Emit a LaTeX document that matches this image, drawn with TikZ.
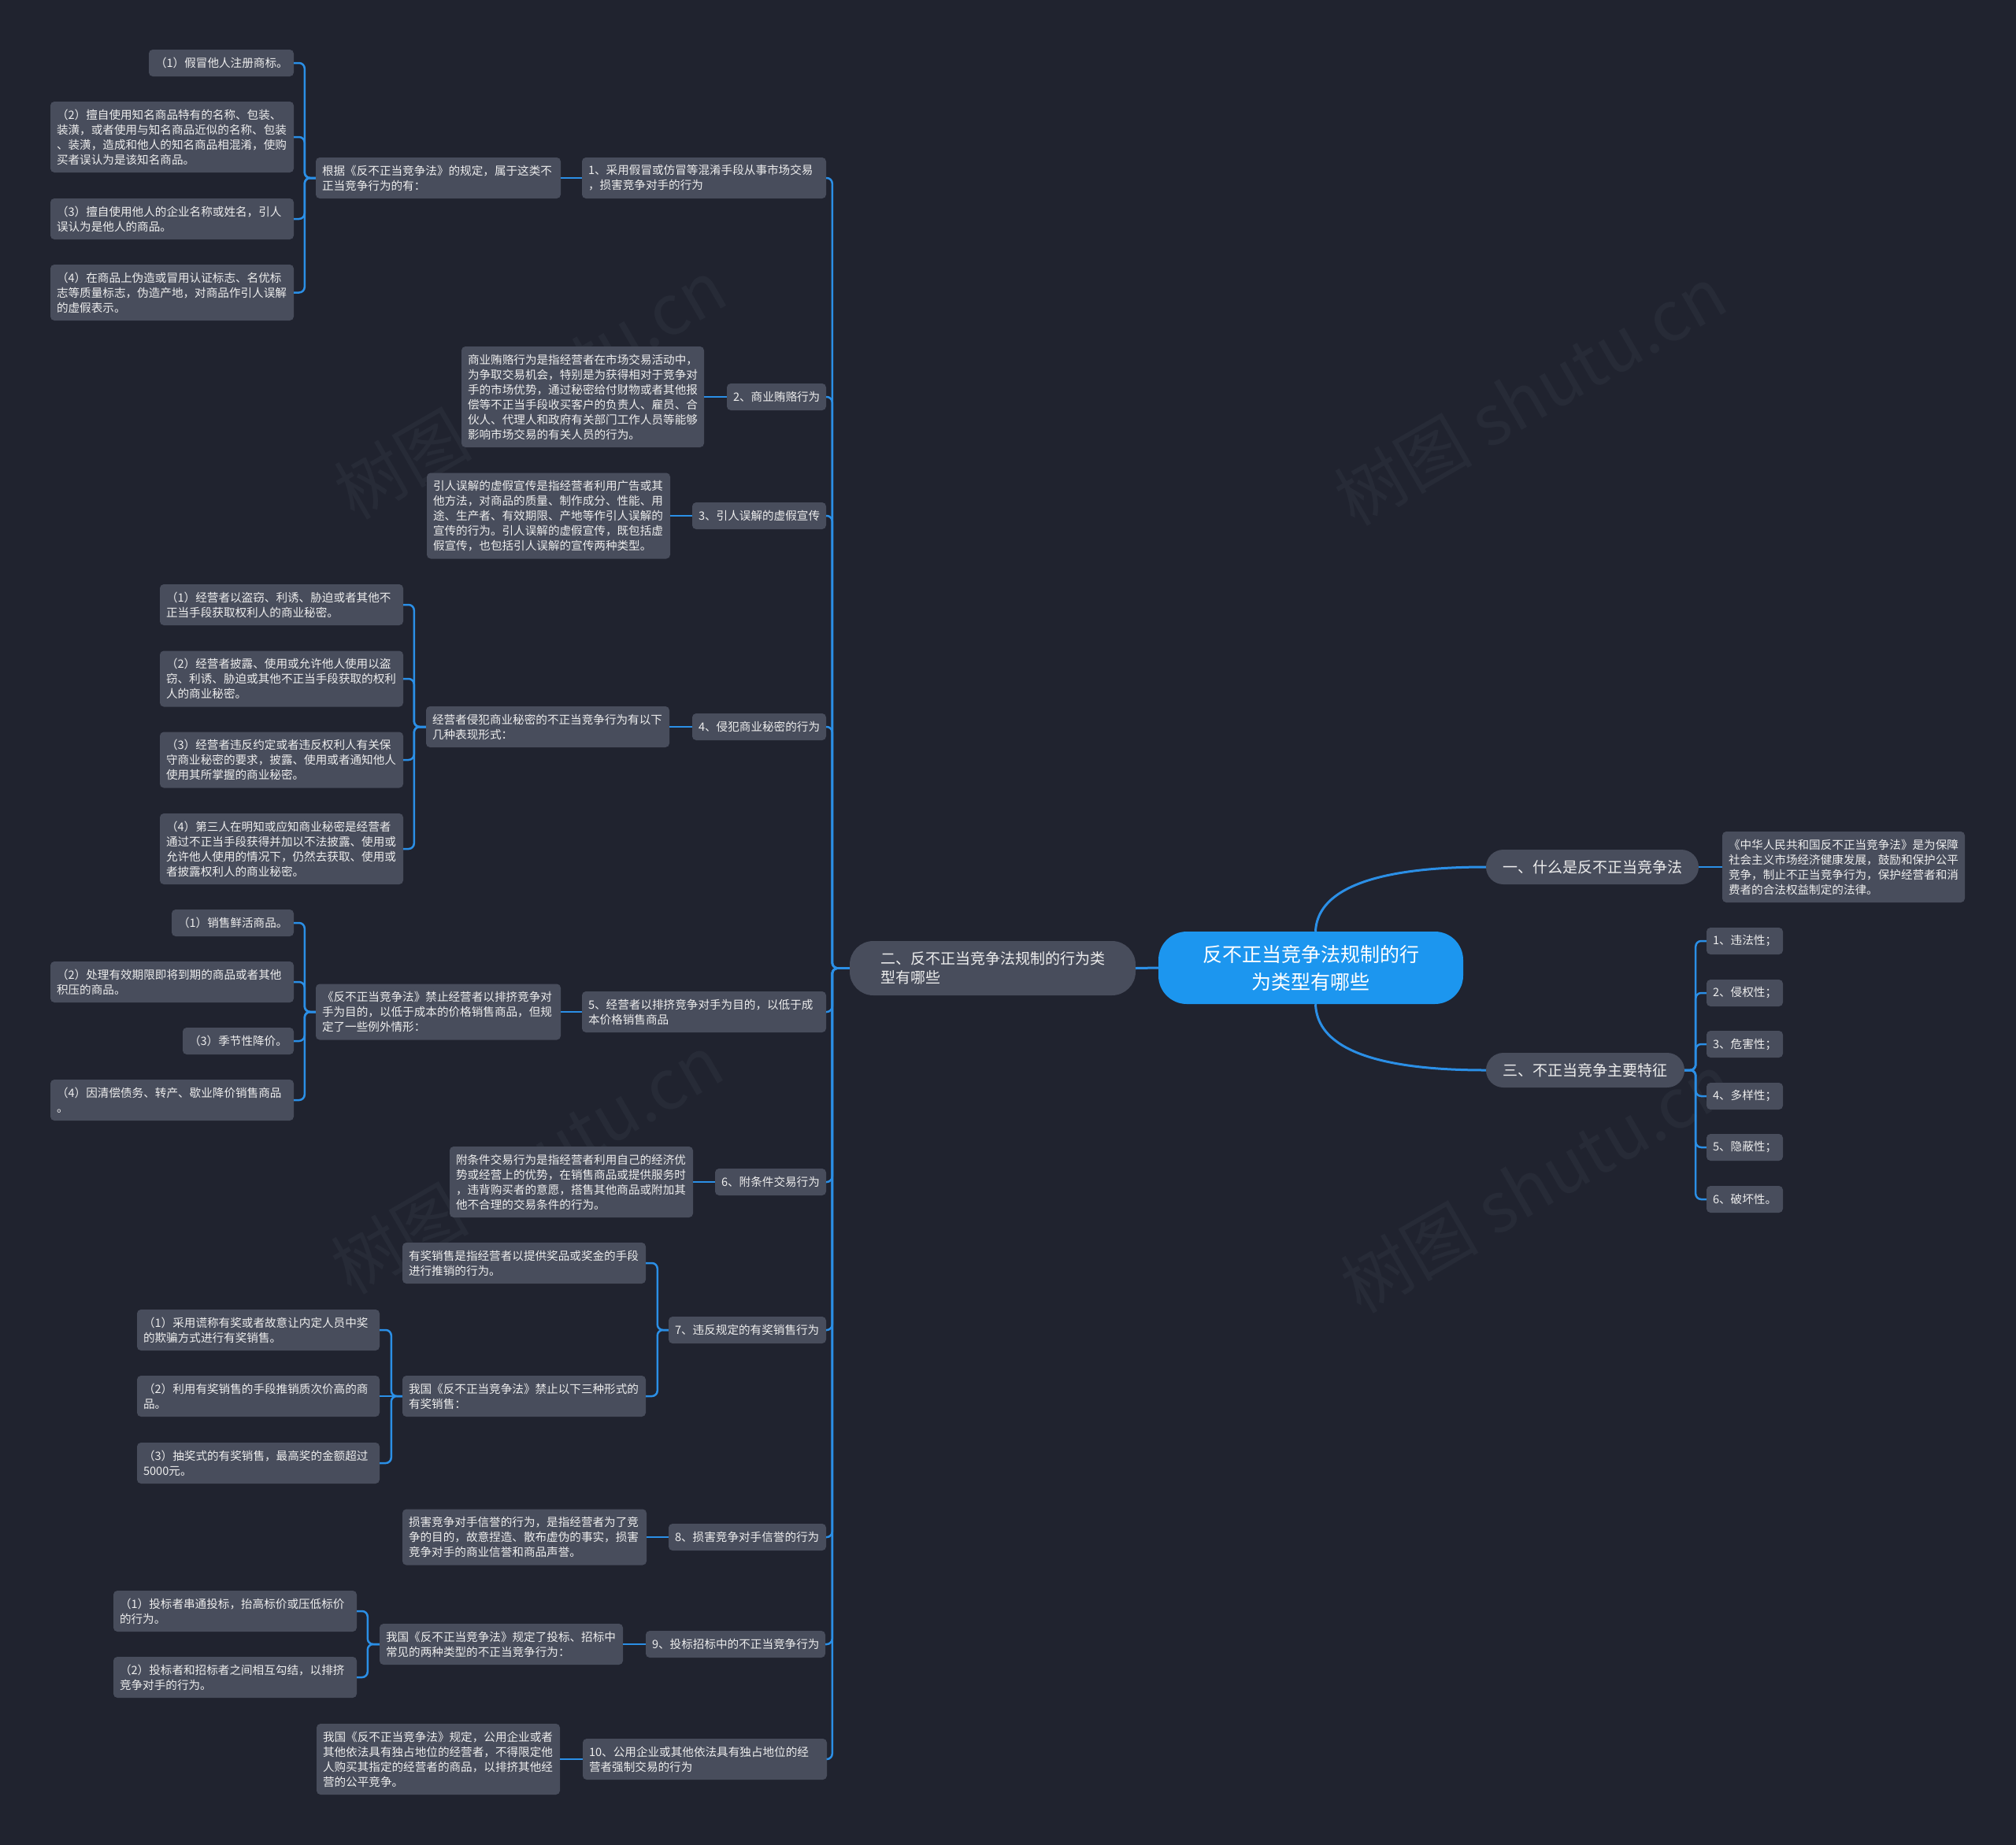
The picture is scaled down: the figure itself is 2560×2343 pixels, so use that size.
\documentclass[tikz,border=0pt]{standalone}
\usepackage{fontspec}
\setmainfont{Noto Sans CJK SC}
\definecolor{bgc}{HTML}{20232F}
\definecolor{nodec}{HTML}{484D5C}
\definecolor{linec}{HTML}{2B8FE6}
\definecolor{mainc}{HTML}{1C96EF}
\definecolor{txtc}{HTML}{EDEDED}
\definecolor{wmc}{HTML}{272B37}
\tikzset{
  box/.style={fill=nodec, rounded corners=5pt, text=txtc, font=\fontsize{14.6}{19}\selectfont, align=left, inner sep=0pt},
  topbox/.style={fill=nodec, text=txtc, font=\fontsize{19}{24}\selectfont, align=left, inner sep=0pt},
  conn/.style={draw=linec, line width=2.5pt, rounded corners=7pt},
  conntop/.style={draw=linec, line width=3pt},
  wm/.style={text=wmc, font=\fontsize{88}{88}\selectfont, rotate=30},
}
\newcommand{\mmbox}[6]{\pgfmathsetmacro{\mmtw}{#4-16}\node[box,minimum width=#4pt,minimum height=#5pt,text width=\mmtw pt] (#1) at (#2,-#3) {#6};}
\begin{document}
\begin{tikzpicture}[x=1pt,y=1pt]
\fill[bgc] (0,0) rectangle (2560,-2343);
\useasboundingbox (0,0) rectangle (2560,-2343);
% watermarks
\node[wm] (w1) at (673,-494) {树图 shutu.cn};
\node[wm] (w2) at (1943,-502) {树图 shutu.cn};
\node[wm] (w3) at (669,-1478) {树图 shutu.cn};
\node[wm] (w4) at (1951,-1502) {树图 shutu.cn};
% center and level 1
\node[fill=mainc, rounded corners=36pt, minimum width=387pt, minimum height=92pt, text=white, font=\fontsize{25}{35}\selectfont, align=center, inner sep=0pt] (C) at (1664.5,-1229) {反不正当竞争法规制的行\\为类型有哪些};
\node[topbox, rounded corners=30pt, minimum width=363pt, minimum height=69pt] (n2) at (1260.5,-1229.5) {二、反不正当竞争法规制的行为类\\型有哪些};
\node[topbox, rounded corners=22pt, minimum width=270pt, minimum height=44pt] (n1) at (2022,-1101) {一、什么是反不正当竞争法};
\node[topbox, rounded corners=22pt, minimum width=252pt, minimum height=44pt] (n3) at (2013,-1359) {三、不正当竞争主要特征};
\mmbox{n1d}{2341}{1101}{308}{90}{《中华人民共和国反不正当竞争法》是为保障\\社会主义市场经济健康发展，鼓励和保护公平\\竞争，制止不正当竞争行为，保护经营者和消\\费者的合法权益制定的法律。}
\mmbox{t1}{2215.5}{1195}{97}{34}{1、违法性；}
\mmbox{t2}{2215.5}{1261}{97}{34}{2、侵权性；}
\mmbox{t3}{2215.5}{1326}{97}{34}{3、危害性；}
\mmbox{t4}{2215.5}{1392}{97}{34}{4、多样性；}
\mmbox{t5}{2215.5}{1457}{97}{34}{5、隐蔽性；}
\mmbox{t6}{2215.5}{1523}{97}{34}{6、破坏性。}
% level 2
\mmbox{k1}{894}{226}{310}{52}{1、采用假冒或仿冒等混淆手段从事市场交易\\，损害竞争对手的行为}
\mmbox{k2}{986}{504}{126}{34}{2、商业贿赂行为}
\mmbox{k3}{964}{655}{170}{34}{3、引人误解的虚假宣传}
\mmbox{k4}{964}{923}{170}{34}{4、侵犯商业秘密的行为}
\mmbox{k5}{894}{1285}{310}{52}{5、经营者以排挤竞争对手为目的，以低于成\\本价格销售商品}
\mmbox{k6}{978.5}{1501}{141}{34}{6、附条件交易行为}
\mmbox{k7}{949}{1689}{200}{34}{7、违反规定的有奖销售行为}
\mmbox{k8}{949}{1952}{200}{34}{8、损害竞争对手信誉的行为}
\mmbox{k9}{934}{2088}{228}{34}{9、投标招标中的不正当竞争行为}
\mmbox{k10}{895}{2234}{310}{52}{10、公用企业或其他依法具有独占地位的经\\营者强制交易的行为}
% level 3
\mmbox{k1a}{556.5}{226}{311}{52}{根据《反不正当竞争法》的规定，属于这类不\\正当竞争行为的有：}
\mmbox{k2d}{740}{504}{308}{128}{商业贿赂行为是指经营者在市场交易活动中，\\为争取交易机会，特别是为获得相对于竞争对\\手的市场优势，通过秘密给付财物或者其他报\\偿等不正当手段收买客户的负责人、雇员、合\\伙人、代理人和政府有关部门工作人员等能够\\影响市场交易的有关人员的行为。}
\mmbox{k3d}{696.5}{655}{309}{109}{引人误解的虚假宣传是指经营者利用广告或其\\他方法，对商品的质量、制作成分、性能、用\\途、生产者、有效期限、产地等作引人误解的\\宣传的行为。引人误解的虚假宣传，既包括虚\\假宣传，也包括引人误解的宣传两种类型。}
\mmbox{k4a}{695.5}{923}{309}{52}{经营者侵犯商业秘密的不正当竞争行为有以下\\几种表现形式：}
\mmbox{k5a}{556.5}{1285}{311}{71}{《反不正当竞争法》禁止经营者以排挤竞争对\\手为目的，以低于成本的价格销售商品，但规\\定了一些例外情形：}
\mmbox{k6d}{725.5}{1501}{309}{90}{附条件交易行为是指经营者利用自己的经济优\\势或经营上的优势，在销售商品或提供服务时\\，违背购买者的意愿，搭售其他商品或附加其\\他不合理的交易条件的行为。}
\mmbox{k7a}{665.5}{1604}{309}{52}{有奖销售是指经营者以提供奖品或奖金的手段\\进行推销的行为。}
\mmbox{k7b}{665.5}{1773}{309}{52}{我国《反不正当竞争法》禁止以下三种形式的\\有奖销售：}
\mmbox{k8d}{666}{1952}{310}{71}{损害竞争对手信誉的行为，是指经营者为了竞\\争的目的，故意捏造、散布虚伪的事实，损害\\竞争对手的商业信誉和商品声誉。}
\mmbox{k9a}{636.5}{2088}{309}{52}{我国《反不正当竞争法》规定了投标、招标中\\常见的两种类型的不正当竞争行为：}
\mmbox{k10d}{556.5}{2234}{309}{90}{我国《反不正当竞争法》规定，公用企业或者\\其他依法具有独占地位的经营者，不得限定他\\人购买其指定的经营者的商品，以排挤其他经\\营的公平竞争。}
% level 4
\mmbox{l11}{281}{80}{184}{34}{（1）假冒他人注册商标。}
\mmbox{l12}{218.5}{174}{309}{90}{（2）擅自使用知名商品特有的名称、包装、\\装潢，或者使用与知名商品近似的名称、包装\\、装潢，造成和他人的知名商品相混淆，使购\\买者误认为是该知名商品。}
\mmbox{l13}{218.5}{278}{309}{52}{（3）擅自使用他人的企业名称或姓名，引人\\误认为是他人的商品。}
\mmbox{l14}{218.5}{371.5}{309}{71}{（4）在商品上伪造或冒用认证标志、名优标\\志等质量标志，伪造产地，对商品作引人误解\\的虚假表示。}
\mmbox{l41}{357.5}{768}{309}{52}{（1）经营者以盗窃、利诱、胁迫或者其他不\\正当手段获取权利人的商业秘密。}
\mmbox{l42}{357.5}{862}{309}{71}{（2）经营者披露、使用或允许他人使用以盗\\窃、利诱、胁迫或其他不正当手段获取的权利\\人的商业秘密。}
\mmbox{l43}{357.5}{965}{309}{71}{（3）经营者违反约定或者违反权利人有关保\\守商业秘密的要求，披露、使用或者通知他人\\使用其所掌握的商业秘密。}
\mmbox{l44}{357.5}{1078}{309}{90}{（4）第三人在明知或应知商业秘密是经营者\\通过不正当手段获得并加以不法披露、使用或\\允许他人使用的情况下，仍然去获取、使用或\\者披露权利人的商业秘密。}
\mmbox{l51}{295.5}{1172}{155}{34}{（1）销售鲜活商品。}
\mmbox{l52}{218.5}{1247}{309}{52}{（2）处理有效期限即将到期的商品或者其他\\积压的商品。}
\mmbox{l53}{302.5}{1322}{141}{34}{（3）季节性降价。}
\mmbox{l54}{218.5}{1397}{309}{52}{（4）因清偿债务、转产、歇业降价销售商品\\。}
\mmbox{l71}{328}{1689}{308}{52}{（1）采用谎称有奖或者故意让内定人员中奖\\的欺骗方式进行有奖销售。}
\mmbox{l72}{328}{1773}{308}{52}{（2）利用有奖销售的手段推销质次价高的商\\品。}
\mmbox{l73}{328}{1858}{308}{52}{（3）抽奖式的有奖销售，最高奖的金额超过\\5000元。}
\mmbox{l91}{298.5}{2046}{309}{52}{（1）投标者串通投标，抬高标价或压低标价\\的行为。}
\mmbox{l92}{298.5}{2130}{309}{52}{（2）投标者和招标者之间相互勾结，以排挤\\竞争对手的行为。}
% connectors level 1
\draw[conntop] (C.west) -- (n2.east);
\draw[conntop] ([xshift=6pt]C.north) .. controls (1672,-1150) and (1700,-1101) .. (n1.west);
\draw[conntop] ([xshift=6pt]C.south) .. controls (1672,-1310) and (1700,-1359) .. (n3.west);
\draw[conn] (n1.east) -- (n1d.west);
\foreach \i in {1,...,6} \draw[conn] (n3.east) -- ++(14,0) |- (t\i.west);
\foreach \i in {1,...,10} \draw[conn] (n2.west) -- ++(-22,0) |- (k\i.east);
% connectors level 2-3
\draw[conn] (k1.west) -- (k1a.east);
\draw[conn] (k2.west) -- (k2d.east);
\draw[conn] (k3.west) -- (k3d.east);
\draw[conn] (k4.west) -- (k4a.east);
\draw[conn] (k5.west) -- (k5a.east);
\draw[conn] (k6.west) -- (k6d.east);
\draw[conn] (k7.west) -- ++(-14,0) |- (k7a.east);
\draw[conn] (k7.west) -- ++(-14,0) |- (k7b.east);
\draw[conn] (k8.west) -- (k8d.east);
\draw[conn] (k9.west) -- (k9a.east);
\draw[conn] (k10.west) -- (k10d.east);
% connectors level 3-4
\foreach \i in {1,...,4} \draw[conn] (k1a.west) -- ++(-14,0) |- (l1\i.east);
\foreach \i in {1,...,4} \draw[conn] (k4a.west) -- ++(-15,0) |- (l4\i.east);
\foreach \i in {1,...,4} \draw[conn] (k5a.west) -- ++(-14,0) |- (l5\i.east);
\draw[conn] (k7b.west) -- ++(-14,0) |- (l71.east);
\draw[conn] (k7b.west) -- (l72.east);
\draw[conn] (k7b.west) -- ++(-14,0) |- (l73.east);
\foreach \i in {1,2} \draw[conn] (k9a.west) -- ++(-15,0) |- (l9\i.east);
\end{tikzpicture}
\end{document}
